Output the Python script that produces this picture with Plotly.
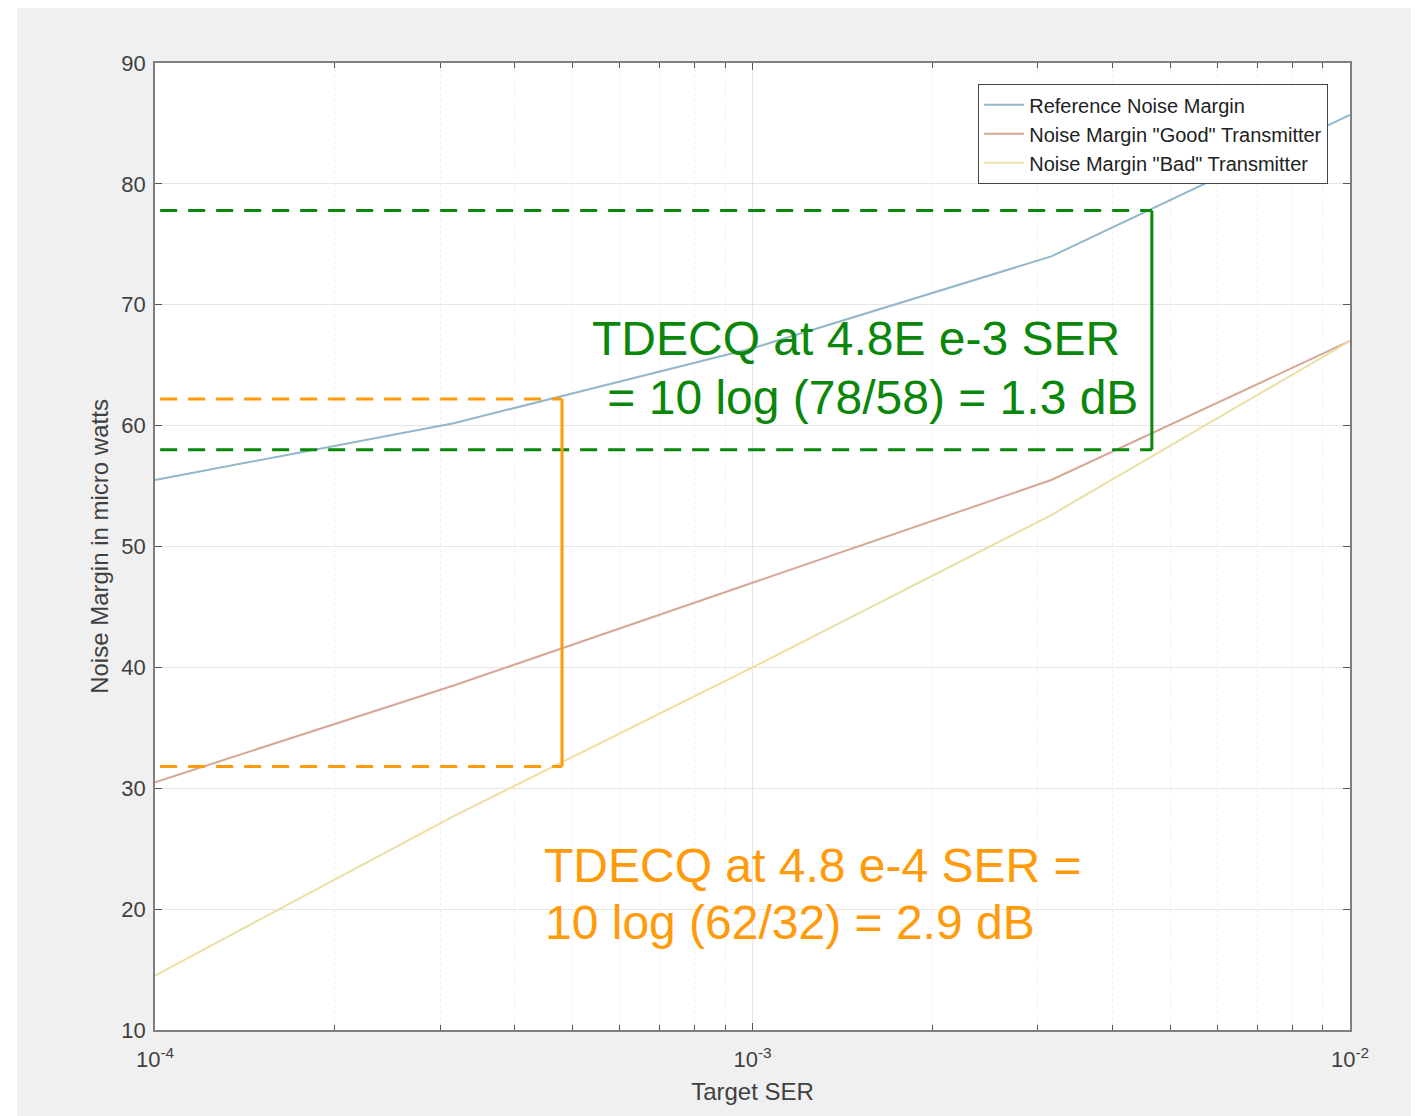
import plotly.graph_objects as go

# ---- data ----
ser = [1e-4, 3.162e-4, 1e-3, 3.162e-3, 1e-2]
ref_margin = [55.5, 60.2, 66.4, 74.0, 85.7]
good_margin = [30.5, 38.5, 47.0, 55.5, 67.0]
bad_margin = [14.5, 27.7, 40.0, 52.6, 67.0]

green_x = [1e-4, 4.66e-3]
green_levels = [77.8, 58.0]
orange_x = [1e-4, 4.8e-4]
orange_levels = [62.2, 31.8]

xtick_vals = [1e-4, 1e-3, 1e-2]
xtick_text = ["10<sup>-4</sup>", "10<sup>-3</sup>", "10<sup>-2</sup>"]
ytick_vals = [10, 20, 30, 40, 50, 60, 70, 80, 90]

GREEN = "#0a870a"
ORANGE = "#ff9a0a"
FONT = "Liberation Sans, Arial, sans-serif"

# page has an 8px body margin; compensate
OFF = 8
L, T, R, B = 155 - OFF, 63 - OFF, 69, 86
W, H = 1419 - OFF, 1116 - OFF
PW = W - L - R   # plot width in px
PH = H - T - B   # plot height in px

def px_x(px):  # page px -> paper x
    return (px - OFF - L) / PW

def px_y(py):  # page px -> paper y
    return 1 - (py - OFF - T) / PH

fig = go.Figure()

fig.add_trace(go.Scatter(x=ser, y=ref_margin, mode="lines", name="Reference Noise Margin",
                         line=dict(color="#93b7ca", width=2)))
fig.add_trace(go.Scatter(x=ser, y=good_margin, mode="lines", name='Noise Margin "Good" Transmitter',
                         line=dict(color="#d6a697", width=2)))
fig.add_trace(go.Scatter(x=ser, y=bad_margin, mode="lines", name='Noise Margin "Bad" Transmitter',
                         line=dict(color="#ecdfa2", width=2)))

# green bracket
for lv in green_levels:
    fig.add_trace(go.Scatter(x=[green_x[0] * 1.02, green_x[1]], y=[lv, lv], mode="lines",
                             line=dict(color=GREEN, width=3, dash="17px,11px"),
                             showlegend=False, hoverinfo="skip"))
fig.add_trace(go.Scatter(x=[green_x[1], green_x[1]], y=green_levels, mode="lines",
                         line=dict(color=GREEN, width=3), showlegend=False, hoverinfo="skip"))
# orange bracket
for lv in orange_levels:
    fig.add_trace(go.Scatter(x=[orange_x[0] * 1.02, orange_x[1]], y=[lv, lv], mode="lines",
                             line=dict(color=ORANGE, width=3, dash="17px,11px"),
                             showlegend=False, hoverinfo="skip"))
fig.add_trace(go.Scatter(x=[orange_x[1], orange_x[1]], y=orange_levels, mode="lines",
                         line=dict(color=ORANGE, width=3), showlegend=False, hoverinfo="skip"))

# annotations
def add_text(txt, px, py, color):
    fig.add_annotation(text=txt, x=px_x(px), y=px_y(py),
                       xref="paper", yref="paper", xanchor="left", yanchor="middle",
                       showarrow=False, font=dict(size=48, color=color, family=FONT))

add_text("TDECQ at 4.8E e-3 SER", 590, 339, GREEN)
add_text(" = 10 log (78/58) = 1.3 dB", 592, 397, GREEN)
add_text("TDECQ at 4.8 e-4 SER =", 542, 865, ORANGE)
add_text("10 log (62/32) = 2.9 dB", 543, 922, ORANGE)

axis_common = dict(showline=True, linecolor="#7f7f7f", linewidth=1.5, mirror="allticks",
                   ticks="inside", ticklen=7, tickcolor="#555555",
                   tickfont=dict(size=22, color="#404040", family=FONT),
                   gridcolor="#e6e6e6", gridwidth=1, zeroline=False)

fig.update_xaxes(type="log", range=[-4, -2], tickvals=xtick_vals, ticktext=xtick_text,
                 ticklabelstandoff=9,
                 minor=dict(ticks="inside", ticklen=5, tickcolor="#555555", showgrid=True,
                            gridcolor="#eeeeee", griddash="dot", dtick="D1"),
                 title=dict(text="Target SER", font=dict(size=24, color="#404040", family=FONT),
                            standoff=12),
                 **axis_common)
fig.update_yaxes(range=[10, 90], tickvals=ytick_vals, ticklabelstandoff=3,
                 title=dict(text="Noise Margin in micro watts",
                            font=dict(size=24, color="#404040", family=FONT), standoff=6),
                 **axis_common)

# white strip at left edge of the grey figure background
fig.add_shape(type="rect", xref="paper", yref="paper", x0=-L / PW, x1=px_x(17),
              y0=-1, y1=1.2, fillcolor="white", line_width=0, layer="above")

fig.update_layout(
    width=W, height=H,
    margin=dict(l=L, r=R, t=T, b=B),
    paper_bgcolor="#f0f0f0", plot_bgcolor="white",
    font=dict(family=FONT, color="#404040"),
    legend=dict(x=px_x(1328), y=px_y(84), xanchor="right", yanchor="top",
                bgcolor="white", bordercolor="#444444", borderwidth=1.2,
                font=dict(size=20, color="#222222", family=FONT),
                tracegroupgap=0, itemwidth=40),
    showlegend=True,
)

fig.write_html("out.html")
